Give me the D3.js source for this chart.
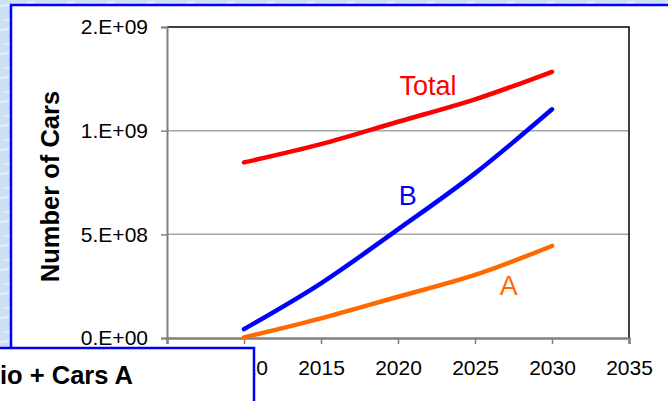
<!DOCTYPE html>
<html>
<head>
<meta charset="utf-8">
<script src="https://cdn.jsdelivr.net/npm/d3@7"></script>
<style>
  html, body { margin: 0; padding: 0; overflow: hidden; background: #cfe0f3; }
  svg { display: block; font-family: Arial, "Liberation Sans", Helvetica, sans-serif; }
</style>
</head>
<body>
<svg id="chart" width="668" height="401"></svg>
<script>
// ---- data ----
const years = [2010, 2015, 2020, 2025, 2030];
const totalCars = [8.47e8, 9.35e8, 1.043e9, 1.151e9, 1.284e9];
const carsB = [4.3e7, 2.64e8, 5.24e8, 7.94e8, 1.103e9];
const carsA = [3e6, 9.5e7, 1.99e8, 3.04e8, 4.44e8];
const xTicks = [2005, 2010, 2015, 2020, 2025, 2030, 2035];
const yTickValues = [0, 5e8, 1e9, 1.5e9];
const yTickLabels = ["0.E+00", "5.E+08", "1.E+09", "2.E+09"];
const seriesNames = ["Total", "B", "A"];
const yTitle = "Number of Cars";
const boxText = "io + Cars A";

const svg = d3.select("#chart");
const W = 668, H = 401;

// textured background
const defs = svg.append("defs");
const pat = defs.append("pattern").attr("id", "tex").attr("patternUnits", "userSpaceOnUse")
  .attr("width", 40).attr("height", 24);
pat.append("rect").attr("width", 40).attr("height", 24).attr("fill", "#cddff3");
pat.append("path").attr("d", "M0,6 L14,4 M20,16 L36,13 M4,20 L12,19 M26,3 L34,2")
  .attr("stroke", "#e6f0fa").attr("stroke-width", 2).attr("fill", "none");
pat.append("path").attr("d", "M8,12 L20,10 M30,21 L40,19")
  .attr("stroke", "#bcd3ec").attr("stroke-width", 1.5).attr("fill", "none");
svg.append("rect").attr("width", W).attr("height", H).attr("fill", "url(#tex)");

// white panel
svg.append("rect").attr("x", 11).attr("y", 5).attr("width", 700).attr("height", 500)
  .attr("fill", "#ffffff").attr("stroke", "#0000ff").attr("stroke-width", 2.5);

// scales
const x = d3.scaleLinear().domain([2005, 2035]).range([167, 629]);
const y = d3.scaleLinear().domain([0, 1.5e9]).range([338, 27]);

// gridlines
svg.append("g").selectAll("line").data(yTickValues.slice(1, 3)).join("line")
  .attr("x1", x(2005)).attr("x2", x(2035))
  .attr("y1", d => y(d)).attr("y2", d => y(d))
  .attr("stroke", "#a6a6a6").attr("stroke-width", 1.5);

// frame top & right
svg.append("path")
  .attr("d", `M${x(2005)},${y(1.5e9)} H${x(2035)} V${y(0)}`)
  .attr("fill", "none").attr("stroke", "#000").attr("stroke-width", 1.5);

// y axis
const yAxis = d3.axisLeft(y).tickValues(yTickValues)
  .tickFormat((d, i) => yTickLabels[i]).tickSize(6).tickPadding(13);
const gy = svg.append("g").attr("transform", `translate(${x(2005)},0)`).call(yAxis);
gy.select(".domain").attr("stroke", "#808080").attr("stroke-width", 2);
gy.selectAll(".tick line").attr("stroke", "#808080").attr("stroke-width", 1.5);
gy.selectAll(".tick text").attr("font-size", 21).attr("fill", "#000")
  .attr("font-family", "Arial, 'Liberation Sans', sans-serif");

// x axis
const xAxis = d3.axisBottom(x).tickValues(xTicks).tickFormat(d3.format("d"))
  .tickSize(6).tickPadding(16);
const gx = svg.append("g").attr("transform", `translate(0,${y(0)})`).call(xAxis);
gx.select(".domain").attr("stroke", "#808080").attr("stroke-width", 2.5);
gx.selectAll(".tick line").attr("stroke", "#808080").attr("stroke-width", 1.5);
gx.selectAll(".tick text").attr("font-size", 21).attr("fill", "#000")
  .attr("font-family", "Arial, 'Liberation Sans', sans-serif");

// lines
const line = d3.line().x((d, i) => x(years[i])).y(d => y(d)).curve(d3.curveMonotoneX);
const series = [
  { name: seriesNames[0], values: totalCars, color: "#ff0000" },
  { name: seriesNames[1], values: carsB, color: "#0000ff" },
  { name: seriesNames[2], values: carsA, color: "#ff6a00" }
];
svg.append("g").selectAll("path").data(series).join("path")
  .attr("d", d => line(d.values))
  .attr("fill", "none").attr("stroke", d => d.color)
  .attr("stroke-width", 4.5).attr("stroke-linecap", "round").attr("stroke-linejoin", "round");

// series labels
const labelPos = [
  { x: 2020.1, v: 1.17e9 },
  { x: 2020.05, v: 6.4e8 },
  { x: 2026.6, v: 2.07e8 }
];
svg.append("g").selectAll("text").data(series).join("text")
  .attr("x", (d, i) => x(labelPos[i].x)).attr("y", (d, i) => y(labelPos[i].v))
  .attr("fill", d => d.color).attr("font-size", 27)
  .text(d => d.name);

// y title
svg.append("text")
  .attr("transform", "translate(59,186.5) rotate(-90)")
  .attr("text-anchor", "middle").attr("font-weight", "bold").attr("font-size", 25.5)
  .attr("fill", "#000").text(yTitle);

// bottom-left overlay box
svg.append("rect").attr("x", -5).attr("y", 348).attr("width", 259).attr("height", 100)
  .attr("fill", "#ffffff").attr("stroke", "#0000ff").attr("stroke-width", 2.5);
svg.append("text").attr("x", 133).attr("y", 384).attr("text-anchor", "end")
  .attr("font-weight", "bold").attr("font-size", 25.5).attr("fill", "#000").text(boxText);
</script>
</body>
</html>
